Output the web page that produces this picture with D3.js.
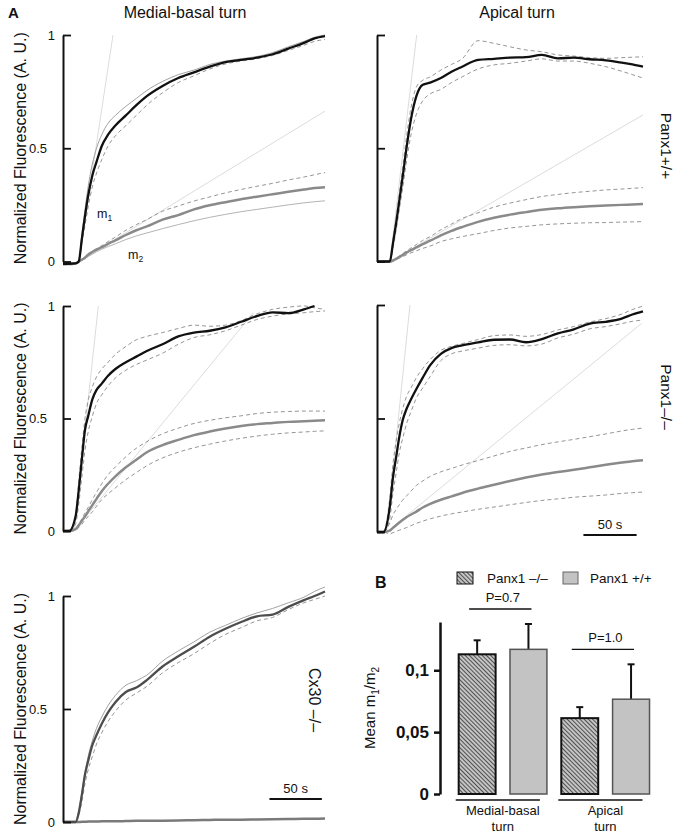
<!DOCTYPE html>
<html><head><meta charset="utf-8">
<script src="https://cdn.jsdelivr.net/npm/d3@7"></script>
<style>body{margin:0;background:#fff}svg{display:block}text{font-family:"Liberation Sans",Arial,sans-serif;fill:#111}</style>
</head><body><svg id="c" width="679" height="838"></svg>
<script>
// ---------- DATA ----------
const timeS = [0,6,12,15,18,21,24,28,32,37,43,50,60,70,80,95,110,125,140,155,170,185,200,215,230,240,250];

// Panel 1: Medial-basal, Panx1+/+
const p1M1   = [-0.01,-0.01,-0.008,0.0,0.10,0.20,0.29,0.38,0.44,0.51,0.56,0.60,0.645,0.69,0.73,0.775,0.81,0.835,0.86,0.88,0.89,0.90,0.915,0.94,0.965,0.985,0.995];
const p1M1Hi = [-0.005,-0.005,-0.005,0.0,0.12,0.23,0.33,0.43,0.50,0.56,0.61,0.645,0.685,0.72,0.755,0.795,0.825,0.845,0.87,0.885,0.895,0.905,0.922,0.948,0.972,0.99,1.0];
const p1M1Lo = [-0.015,-0.015,-0.012,-0.005,0.08,0.16,0.24,0.33,0.39,0.45,0.51,0.555,0.60,0.645,0.69,0.745,0.79,0.82,0.85,0.872,0.885,0.895,0.91,0.932,0.955,0.972,0.98];
const p1M2   = [-0.01,-0.01,-0.008,0.0,0.008,0.017,0.03,0.042,0.052,0.063,0.078,0.093,0.117,0.138,0.155,0.185,0.205,0.23,0.248,0.262,0.275,0.286,0.297,0.308,0.318,0.324,0.328];
const p1M2Hi = [-0.01,-0.01,-0.006,0.0,0.01,0.02,0.032,0.045,0.057,0.07,0.088,0.108,0.138,0.163,0.185,0.222,0.245,0.267,0.285,0.303,0.318,0.332,0.345,0.36,0.373,0.383,0.393];
const p1M2Lo = [-0.015,-0.015,-0.012,-0.005,0.005,0.013,0.022,0.032,0.043,0.054,0.066,0.078,0.097,0.113,0.126,0.145,0.163,0.18,0.195,0.208,0.22,0.23,0.24,0.25,0.259,0.264,0.268];
const p1Slope1 = [15,0,47.7,1.0];
const p1Slope2 = [15,0,250,0.664];

// Panel 2: Apical, Panx1+/+
const p2M1   = [0,0,0.0,0.08,0.17,0.27,0.37,0.51,0.63,0.73,0.78,0.79,0.81,0.838,0.86,0.89,0.895,0.90,0.902,0.912,0.897,0.90,0.893,0.888,0.878,0.87,0.86];
const p2M1Hi = [0,0,0.0,0.09,0.19,0.30,0.41,0.56,0.68,0.77,0.80,0.815,0.845,0.87,0.895,0.975,0.963,0.948,0.934,0.926,0.912,0.907,0.90,0.897,0.90,0.902,0.904];
const p2M1Lo = [0,0,-0.005,0.06,0.14,0.23,0.32,0.45,0.56,0.65,0.71,0.74,0.76,0.79,0.815,0.85,0.868,0.875,0.885,0.895,0.885,0.885,0.875,0.86,0.84,0.825,0.81];
const p2M2   = [0,0,0,0.005,0.012,0.02,0.028,0.04,0.05,0.062,0.077,0.092,0.115,0.135,0.152,0.175,0.193,0.207,0.218,0.228,0.235,0.24,0.244,0.247,0.25,0.252,0.254];
const p2M2Hi = [0,0,0,0.005,0.014,0.024,0.034,0.048,0.06,0.075,0.093,0.11,0.14,0.165,0.19,0.215,0.24,0.258,0.273,0.287,0.296,0.304,0.31,0.316,0.32,0.323,0.326];
const p2M2Lo = [0,0,-0.005,0.0,0.008,0.015,0.021,0.03,0.038,0.047,0.058,0.068,0.088,0.1,0.11,0.123,0.137,0.148,0.155,0.162,0.166,0.169,0.171,0.172,0.174,0.175,0.176];
const p2Slope1 = [12.2,0,37.3,1.0];
const p2Slope2 = [12.2,0,250,0.647];

// Panel 3: Medial-basal, Panx1-/-
const p3M1   = [0,0,0.064,0.18,0.32,0.45,0.51,0.585,0.627,0.655,0.69,0.72,0.75,0.775,0.80,0.83,0.865,0.882,0.89,0.905,0.93,0.955,0.972,0.968,0.985,1.0,null];
const p3M1Hi = [0,0,0.07,0.22,0.37,0.50,0.58,0.64,0.685,0.72,0.75,0.785,0.82,0.85,0.865,0.882,0.90,0.915,0.91,0.915,0.935,0.965,0.985,0.995,1.0,0.992,0.985];
const p3M1Lo = [0,0,0.03,0.12,0.24,0.36,0.44,0.51,0.567,0.605,0.645,0.68,0.715,0.74,0.76,0.79,0.83,0.86,0.872,0.89,0.915,0.94,0.955,0.965,0.97,0.975,0.978];
const p3M2   = [0,0,0.008,0.025,0.045,0.065,0.087,0.115,0.143,0.177,0.21,0.243,0.283,0.317,0.35,0.382,0.405,0.426,0.442,0.456,0.467,0.475,0.48,0.485,0.488,0.49,0.492];
const p3M2Hi = [0,0,0.008,0.03,0.055,0.08,0.105,0.14,0.172,0.21,0.25,0.285,0.33,0.368,0.397,0.432,0.457,0.478,0.492,0.503,0.512,0.522,0.528,0.531,0.533,0.533,0.533];
const p3M2Lo = [0,0,0.004,0.015,0.03,0.048,0.065,0.085,0.11,0.14,0.165,0.192,0.228,0.26,0.29,0.325,0.35,0.37,0.386,0.40,0.412,0.422,0.43,0.436,0.44,0.443,0.445];
const p3Slope1 = [10.5,0,33.7,1.0];
const p3Slope2 = [10.5,0,181.6,0.97];

// Panel 4: Apical, Panx1-/-
const p4M1   = [0,0,0.11,0.24,0.33,0.42,0.49,0.545,0.585,0.63,0.68,0.735,0.785,0.81,0.822,0.835,0.847,0.848,0.836,0.85,0.875,0.893,0.918,0.926,0.94,0.958,0.972];
const p4M1Hi = [0,0,0.15,0.30,0.40,0.48,0.54,0.60,0.635,0.68,0.72,0.76,0.80,0.818,0.83,0.848,0.865,0.868,0.862,0.87,0.89,0.905,0.925,0.94,0.96,0.98,0.995];
const p4M1Lo = [0,0,0.06,0.17,0.26,0.35,0.41,0.48,0.53,0.59,0.635,0.685,0.755,0.785,0.797,0.81,0.822,0.825,0.82,0.828,0.855,0.872,0.895,0.905,0.918,0.928,0.934];
const p4M2   = [0,0,0.006,0.018,0.03,0.042,0.053,0.066,0.077,0.09,0.108,0.124,0.142,0.157,0.172,0.191,0.208,0.225,0.24,0.253,0.264,0.274,0.285,0.296,0.306,0.312,0.316];
const p4M2Hi = [0,0,0.04,0.075,0.1,0.12,0.14,0.16,0.18,0.205,0.225,0.245,0.265,0.28,0.295,0.315,0.335,0.355,0.37,0.385,0.397,0.408,0.42,0.432,0.445,0.452,0.458];
const p4M2Lo = [0,0,-0.008,-0.003,0.003,0.008,0.013,0.02,0.028,0.038,0.048,0.058,0.07,0.08,0.088,0.1,0.11,0.12,0.13,0.139,0.146,0.153,0.158,0.163,0.17,0.173,0.176];
const p4Slope1 = [9.1,0,31,1.0];
const p4Slope2 = [9.1,0,248.7,0.919];

// Panel 5: Cx30-/-
const p5M1   = [0,0,0,0.04,0.12,0.21,0.27,0.34,0.385,0.435,0.485,0.53,0.575,0.595,0.628,0.688,0.733,0.775,0.82,0.855,0.885,0.91,0.918,0.952,0.982,1.0,1.02];
const p5M1Hi = [0,0,0,0.05,0.13,0.22,0.29,0.36,0.415,0.465,0.515,0.56,0.605,0.625,0.65,0.712,0.757,0.797,0.84,0.87,0.9,0.925,0.945,0.97,0.995,1.02,1.04];
const p5M1Lo = [0,0,0,0.03,0.09,0.17,0.23,0.29,0.345,0.395,0.445,0.49,0.54,0.57,0.6,0.66,0.705,0.745,0.79,0.83,0.86,0.89,0.905,0.94,0.97,0.985,1.0];
const p5M2   = [0,0,0,0,0.001,0.001,0.002,0.002,0.002,0.003,0.003,0.003,0.004,0.005,0.005,0.006,0.007,0.008,0.009,0.01,0.01,0.011,0.012,0.013,0.014,0.014,0.015];

const yTickVals = [0, 0.5, 1];
const yTickLabels = ["0", "0.5", "1"];
const scaleBarSeconds = 50;

// Panel B
const groupLabels = [["Medial-basal","turn"],["Apical","turn"]];
const genotypeLabels = ["Panx1 \u2013/\u2013", "Panx1 +/+"];
const barMeans = [0.1129, 0.1169, 0.0613, 0.0766];
const barErrors = [0.0113, 0.0205, 0.0089, 0.0282];
const pLabels = ["P=0.7", "P=1.0"];
const bTickVals = [0, 0.05, 0.1];
const bTickLabels = ["0", "0,05", "0,1"];

// ---------- DRAW ----------
const svg = d3.select('#c');
const defs = svg.append('defs');
const pat = defs.append('pattern').attr('id','hatch').attr('patternUnits','userSpaceOnUse')
  .attr('width',3).attr('height',3).attr('patternTransform','rotate(-45)');
pat.append('rect').attr('width',3).attr('height',3).attr('fill','#c4c4c4');
pat.append('line').attr('x1',0).attr('y1',0).attr('x2',0).attr('y2',3).attr('stroke','#333').attr('stroke-width',1.6);

const DASH = {stroke:'#7a7a7a', w:0.8, dash:'4,3'};
const THIN = {stroke:'#8a8a8a', w:0.8, dash:null};
const THIN2 = {stroke:'#aaaaaa', w:0.9, dash:null};

const panels = [
 {xr:[63,325], yr:[261.5,35], labels:true, m1:p1M1, m1Hi:p1M1Hi, m1Lo:p1M1Lo, m2:p1M2, m2Hi:p1M2Hi, m2Lo:p1M2Lo,
  s1:p1Slope1, s2:p1Slope2, st:[THIN,DASH,DASH,THIN2], c1:'#111', c2:'#8a8a8a'},
 {xr:[377,643], yr:[261.5,35], labels:false, m1:p2M1, m1Hi:p2M1Hi, m1Lo:p2M1Lo, m2:p2M2, m2Hi:p2M2Hi, m2Lo:p2M2Lo,
  s1:p2Slope1, s2:p2Slope2, st:[DASH,DASH,DASH,DASH], c1:'#111', c2:'#8a8a8a'},
 {xr:[63,325], yr:[531,306], labels:true, m1:p3M1, m1Hi:p3M1Hi, m1Lo:p3M1Lo, m2:p3M2, m2Hi:p3M2Hi, m2Lo:p3M2Lo,
  s1:p3Slope1, s2:p3Slope2, st:[DASH,DASH,DASH,DASH], c1:'#111', c2:'#8a8a8a'},
 {xr:[377,643], yr:[532,305], labels:false, m1:p4M1, m1Hi:p4M1Hi, m1Lo:p4M1Lo, m2:p4M2, m2Hi:p4M2Hi, m2Lo:p4M2Lo,
  s1:p4Slope1, s2:p4Slope2, st:[DASH,DASH,DASH,DASH], c1:'#111', c2:'#8a8a8a', bar:{t:194, y:535}},
 {xr:[63,325], yr:[822,596], labels:true, m1:p5M1, m1Hi:p5M1Hi, m1Lo:p5M1Lo, m2:p5M2, m2Hi:null, m2Lo:null,
  s1:null, s2:null, st:[THIN,DASH,null,null], c1:'#4d4d4d', c2:'#7a7a7a', bar:{t:197, y:799}}
];

panels.forEach(p => {
  const x = d3.scaleLinear().domain([0,250]).range(p.xr);
  const y = d3.scaleLinear().domain([0,1]).range(p.yr);
  const g = svg.append('g');
  const line = d3.line().defined(d => d[1] != null).x(d => x(d[0])).y(d => y(d[1])).curve(d3.curveMonotoneX);
  const pts = arr => timeS.map((t,i) => [t, arr[i]]);
  // slope lines
  [p.s1, p.s2].forEach(s => { if (!s) return;
    g.append('line').attr('x1',x(s[0])).attr('y1',y(s[1])).attr('x2',x(s[2])).attr('y2',y(s[3]))
     .attr('stroke','#dcdcdc').attr('stroke-width',1);
  });
  // envelopes
  [[p.m1Hi,p.st[0]],[p.m1Lo,p.st[1]],[p.m2Hi,p.st[2]],[p.m2Lo,p.st[3]]].forEach(([arr,st]) => {
    if (!arr) return;
    g.append('path').attr('d', line(pts(arr))).attr('fill','none').attr('stroke',st.stroke)
     .attr('stroke-width',st.w).attr('stroke-dasharray',st.dash);
  });
  g.append('path').attr('d', line(pts(p.m2))).attr('fill','none').attr('stroke',p.c2).attr('stroke-width',2.5);
  g.append('path').attr('d', line(pts(p.m1))).attr('fill','none').attr('stroke',p.c1).attr('stroke-width',2.3);
  // axis (inward ticks)
  const ax = g.append('g').attr('transform',`translate(${p.xr[0]},0)`)
    .call(d3.axisRight(y).tickValues(yTickVals).tickSize(8).tickSizeOuter(0).tickFormat(''));
  ax.select('.domain').attr('stroke','#111').attr('stroke-width',2);
  ax.selectAll('.tick line').attr('stroke','#111').attr('stroke-width',1.8);
  if (p.labels) {
    const al = g.append('g').attr('transform',`translate(${p.xr[0]},0)`)
      .call(d3.axisLeft(y).tickValues(yTickVals).tickSize(0).tickPadding(8).tickFormat((d,i)=>yTickLabels[i]));
    al.select('.domain').remove();
    al.selectAll('text').attr('font-size',13).attr('font-family','"Liberation Sans",Arial,sans-serif').attr('fill','#111')
      .attr('dx', d => d === 0.5 ? -8 : 0);
    g.append('text').attr('transform',`translate(26,${(p.yr[0]+p.yr[1])/2}) rotate(-90)`)
      .attr('text-anchor','middle').attr('font-size',16).attr('fill','#222').text('Normalized Fluorescence (A. U.)');
  }
  if (p.bar) {
    g.append('line').attr('x1',x(p.bar.t)).attr('x2',x(p.bar.t+scaleBarSeconds)).attr('y1',p.bar.y).attr('y2',p.bar.y)
      .attr('stroke','#111').attr('stroke-width',2);
    g.append('text').attr('x',(x(p.bar.t)+x(p.bar.t+scaleBarSeconds))/2).attr('y',p.bar.y-6)
      .attr('text-anchor','middle').attr('font-size',13).text(scaleBarSeconds+' s');
  }
});

// m1, m2 labels
const m1t = svg.append('text').attr('x',97).attr('y',218).attr('font-size',12.5);
m1t.append('tspan').text('m'); m1t.append('tspan').attr('font-size',8.5).attr('dy',3).text('1');
const m2t = svg.append('text').attr('x',128).attr('y',259).attr('font-size',12.5);
m2t.append('tspan').text('m'); m2t.append('tspan').attr('font-size',8.5).attr('dy',3).text('2');

// titles and row labels
svg.append('text').attr('x',8).attr('y',18).attr('font-size',15).attr('font-weight','bold').text('A');
svg.append('text').attr('x',185).attr('y',18).attr('text-anchor','middle').attr('font-size',16).text('Medial-basal turn');
svg.append('text').attr('x',517).attr('y',18).attr('text-anchor','middle').attr('font-size',16).text('Apical turn');
svg.append('text').attr('transform','translate(661,146) rotate(90)').attr('text-anchor','middle').attr('font-size',15.5).text('Panx1+/+');
svg.append('text').attr('transform','translate(661,397) rotate(90)').attr('text-anchor','middle').attr('font-size',15.5).text('Panx1\u2013/\u2013');
svg.append('text').attr('transform','translate(309,700) rotate(90)').attr('text-anchor','middle').attr('font-size',16).text('Cx30 \u2013/\u2013');

// ---------- Panel B ----------
const yB = d3.scaleLinear().domain([0, 0.139]).range([794, 622]);
const xB = d3.scaleBand().domain(d3.range(barMeans.length)).range([451.5, 656.7]).paddingInner(0.28).paddingOuter(0.14);
const bw = xB.bandwidth();
const gb = svg.append('g');
svg.append('text').attr('x',375).attr('y',588).attr('font-size',16).attr('font-weight','bold').text('B');

barMeans.forEach((m,i) => {
  const hatched = i % 2 === 0;
  const cx = xB(i) + bw/2;
  gb.append('line').attr('x1',cx).attr('x2',cx).attr('y1',yB(m)).attr('y2',yB(m+barErrors[i])).attr('stroke','#111').attr('stroke-width',2);
  gb.append('line').attr('x1',cx-3.5).attr('x2',cx+3.5).attr('y1',yB(m+barErrors[i])).attr('y2',yB(m+barErrors[i])).attr('stroke','#111').attr('stroke-width',2);
  gb.append('rect').attr('x',xB(i)).attr('y',yB(m)).attr('width',bw).attr('height',yB(0)-yB(m))
    .attr('fill', hatched ? 'url(#hatch)' : '#c3c3c3')
    .attr('stroke', hatched ? '#111' : '#555').attr('stroke-width', hatched ? 2 : 1.5);
});

const axB = gb.append('g').attr('transform','translate(440,0)')
  .call(d3.axisLeft(yB).tickValues(bTickVals).tickSize(6).tickSizeOuter(0).tickPadding(5).tickFormat((d,i)=>bTickLabels[i]));
axB.select('.domain').attr('stroke','#111').attr('stroke-width',2.5);
axB.selectAll('.tick line').attr('stroke','#111').attr('stroke-width',2.5);
axB.selectAll('text').attr('font-size',17).attr('font-weight','bold').attr('fill','#111')
  .attr('font-family','"Liberation Sans",Arial,sans-serif');

const yl = svg.append('text').attr('transform','translate(375,708) rotate(-90)').attr('text-anchor','middle').attr('font-size',15);
yl.append('tspan').text('Mean m');
yl.append('tspan').attr('font-size',10).attr('dy',4).text('1');
yl.append('tspan').attr('dy',-4).text('/m');
yl.append('tspan').attr('font-size',10).attr('dy',4).text('2');

// group underlines and labels
groupLabels.forEach((lab,gi) => {
  const i0 = gi*2, i1 = gi*2+1;
  const xa = xB(i0)-3, xb = xB(i1)+bw-7;
  gb.append('line').attr('x1',xa).attr('x2',xb).attr('y1',800).attr('y2',800).attr('stroke','#111').attr('stroke-width',1.3);
  const cx = (xB(i0)+xB(i1)+bw)/2;
  gb.append('text').attr('x',cx).attr('y',815).attr('text-anchor','middle').attr('font-size',13).text(lab[0]);
  gb.append('text').attr('x',cx).attr('y',831).attr('text-anchor','middle').attr('font-size',13).text(lab[1]);
  // p-value
  const top = Math.max(barMeans[i0]+barErrors[i0], barMeans[i1]+barErrors[i1]);
  const ly = yB(top) - 15;
  const c0 = xB(i0)+bw/2, c1 = xB(i1)+bw/2;
  gb.append('line').attr('x1',c0-8).attr('x2',c1+3).attr('y1',ly).attr('y2',ly).attr('stroke','#111').attr('stroke-width',1.3);
  gb.append('text').attr('x',(c0+c1)/2).attr('y',ly-7).attr('text-anchor','middle').attr('font-size',13).text(pLabels[gi]);
});

// legend
const lg = svg.append('g');
lg.append('rect').attr('x',457).attr('y',572).attr('width',16).attr('height',12).attr('fill','url(#hatch)').attr('stroke','#111').attr('stroke-width',1);
lg.append('text').attr('x',487).attr('y',583).attr('font-size',13.5).text(genotypeLabels[0]);
lg.append('rect').attr('x',563).attr('y',572).attr('width',15).attr('height',12).attr('fill','#c3c3c3').attr('stroke','#666').attr('stroke-width',1);
lg.append('text').attr('x',590).attr('y',583).attr('font-size',13.5).text(genotypeLabels[1]);
</script></body></html>
